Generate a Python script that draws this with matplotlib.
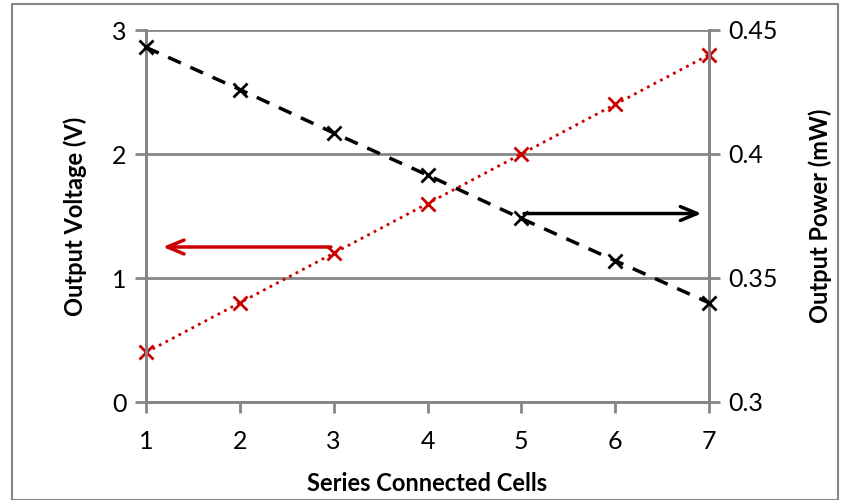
import matplotlib
matplotlib.use('Agg')
import matplotlib.pyplot as plt
from matplotlib.patches import Rectangle

plt.rcParams['font.family'] = ['Lato', 'DejaVu Sans']

cells = [1, 2, 3, 4, 5, 6, 7]
voltage = [0.4, 0.8, 1.2, 1.6, 2.0, 2.4, 2.8]
power = [0.443, 0.426, 0.4085, 0.3915, 0.374, 0.357, 0.340]

grey = '#868686'
red = '#cc0000'

fig = plt.figure(figsize=(8.46, 5.0), dpi=100)
ax = fig.add_axes([146/846, 1 - 402/500, (709 - 146)/846, (402 - 30)/500])
ax2 = ax.twinx()

ax.plot(cells, voltage, color=red, linestyle=':', linewidth=2, marker='x',
        markersize=10, markeredgewidth=2, zorder=3, clip_on=False)
ax2.plot(cells, power, color='black', linestyle=(0, (4, 3)), linewidth=2.5,
         marker='x', markersize=10, markeredgewidth=2, zorder=3, clip_on=False)

ax.set_xlim(1, 7)
ax.set_ylim(0, 3)
ax2.set_ylim(0.3, 0.45)
ax.set_yticks([0, 1, 2, 3])
ax2.set_yticks([0.3, 0.35, 0.4, 0.45])
ax2.set_yticklabels(['0.3', '0.35', '0.4', '0.45'])
ax.set_xticks(cells)

ax.grid(axis='y', color=grey, linewidth=2)
ax.set_axisbelow(True)
for a in (ax, ax2):
    for s in a.spines.values():
        s.set_color(grey)
        s.set_linewidth(2)
    a.spines['top'].set_visible(False)
ax.tick_params(axis='both', colors=grey, width=2, length=8, labelsize=18,
               labelcolor='black')
ax.tick_params(axis='x', pad=12)
ax.tick_params(axis='y', pad=6)
ax2.tick_params(axis='y', colors=grey, width=2, length=8, labelsize=18,
                labelcolor='black', pad=6)

ax.set_xlabel('Series Connected Cells', fontsize=17, fontweight='bold', labelpad=14)
ax.set_ylabel('Output Voltage (V)', fontsize=17, fontweight='bold', labelpad=18)
ax2.set_ylabel('Output Power (mW)', fontsize=17, fontweight='bold', labelpad=22)

ax.annotate('', xy=(1.15, 1.25), xytext=(3, 1.25),
            arrowprops=dict(arrowstyle='->,head_length=1.2,head_width=0.5',
                            color=red, lw=2.5))
ax.annotate('', xy=(6.95, 1.52), xytext=(5, 1.52),
            arrowprops=dict(arrowstyle='->,head_length=1.2,head_width=0.5',
                            color='black', lw=2.5))

fig.patches.append(Rectangle((12/846, 0.0), 826/846, 0.992, transform=fig.transFigure,
                             fill=False, edgecolor=grey, linewidth=1.5))

fig.savefig('out.png', dpi=100)
